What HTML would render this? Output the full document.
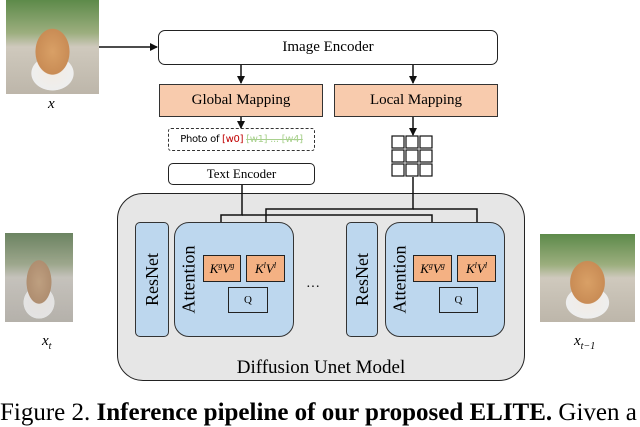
<!DOCTYPE html>
<html><head><meta charset="utf-8"><style>
body{margin:0;width:640px;height:410px;overflow:hidden;background:#fff;font-family:"Liberation Serif",serif;position:relative}
.a{position:absolute;box-sizing:border-box}
.c{display:flex;align-items:center;justify-content:center}
.dog{background:radial-gradient(ellipse 30% 40% at 50% 55%,#d9a066 0,#c98c55 60%,transparent 62%),radial-gradient(ellipse 25% 20% at 50% 78%,#f2ece4 0,#eee 90%,transparent 92%),linear-gradient(#5d8a4a 0,#9cae7e 35%,#cfc9bd 50%,#bdb6aa 100%)}
sup{font-size:8px;vertical-align:5px}
.rot{transform:rotate(-90deg);font-size:18px;white-space:nowrap}
</style></head><body>
<div class="a dog" style="left:6px;top:0;width:93px;height:94px"></div>
<div class="a" style="left:48px;top:96px;font-style:italic;font-size:15px">x</div>
<div class="a dog" style="left:5px;top:233px;width:68px;height:89px;filter:saturate(.6) contrast(.9)"></div>
<div class="a" style="left:42px;top:333px;font-style:italic;font-size:15px">x<sub style="font-size:10px">t</sub></div>
<div class="a dog" style="left:540px;top:234px;width:95px;height:88px"></div>
<div class="a" style="left:574px;top:333px;font-style:italic;font-size:15px">x<sub style="font-size:10px">t−1</sub></div>

<div class="a" style="left:117px;top:193px;width:408px;height:188px;background:#e6e6e6;border:1.5px solid #222;border-radius:26px"></div>

<svg class="a" style="left:0;top:0" width="640" height="410">
<defs><marker id="m" markerWidth="8" markerHeight="8" refX="7" refY="4" orient="auto" markerUnits="userSpaceOnUse"><path d="M0,0L8,4L0,8z" fill="#111"/></marker></defs>
<g stroke="#111" stroke-width="1.5" fill="none">
<line x1="99" y1="47" x2="157" y2="47" marker-end="url(#m)"/>
<line x1="241" y1="65" x2="241" y2="83" marker-end="url(#m)"/>
<line x1="413" y1="65" x2="413" y2="83" marker-end="url(#m)"/>
<line x1="241" y1="117" x2="241" y2="128" marker-end="url(#m)"/>
<line x1="413" y1="117" x2="413" y2="135" marker-end="url(#m)"/>
<polyline points="242,185 242,215 221,215 221,254" marker-end="url(#m)"/>
<polyline points="242,215 432,215 432,254" marker-end="url(#m)"/>
<polyline points="413,177 413,209 266,209 266,254" marker-end="url(#m)"/>
<polyline points="413,209 477,209 477,254" marker-end="url(#m)"/>
<g stroke-width="1.2">
<rect x="392" y="136" width="12" height="12"/><rect x="406" y="136" width="12" height="12"/><rect x="420" y="136" width="12" height="12"/>
<rect x="392" y="150" width="12" height="12"/><rect x="406" y="150" width="12" height="12"/><rect x="420" y="150" width="12" height="12"/>
<rect x="392" y="164" width="12" height="12"/><rect x="406" y="164" width="12" height="12"/><rect x="420" y="164" width="12" height="12"/>
</g></g></svg>

<div class="a c" style="left:158px;top:30px;width:340px;height:35px;border:1.5px solid #222;border-radius:7px;font-size:15px">Image Encoder</div>
<div class="a c" style="left:159px;top:84px;width:164px;height:33px;border:1.5px solid #333;background:#f8cbad;font-size:15px">Global Mapping</div>
<div class="a c" style="left:334px;top:84px;width:164px;height:33px;border:1.5px solid #333;background:#f8cbad;font-size:15px">Local Mapping</div>
<div class="a c" style="left:168px;top:128px;width:147px;height:23px;border:1.5px dashed #333;border-radius:3px;font-family:'DejaVu Sans',sans-serif;font-size:10px;letter-spacing:-.3px"><span>Photo of <span style="color:#c00000">[w0]</span> <span style="color:#a9d18e;text-decoration:line-through">[w1] ... [w4]</span></span></div>
<div class="a c" style="left:168px;top:163px;width:147px;height:22px;border:1.5px solid #222;border-radius:5px;font-size:13px">Text Encoder</div>

<div class="a c" style="left:135px;top:222px;width:34px;height:115px;background:#bdd7ee;border:1.2px solid #333;border-radius:5px"><span class="rot">ResNet</span></div>
<div class="a" style="left:174px;top:222px;width:120px;height:115px;background:#bdd7ee;border:1.2px solid #333;border-radius:15px"></div>
<div class="a c" style="left:174px;top:222px;width:30px;height:115px"><span class="rot">Attention</span></div>
<div class="a c" style="left:203px;top:255px;width:38px;height:27px;background:#f4b183;border:1.5px solid #222;font-style:italic;font-size:13px"><span>K<sup>g</sup>V<sup>g</sup></span></div>
<div class="a c" style="left:246px;top:255px;width:39px;height:27px;background:#f4b183;border:1.5px solid #222;font-style:italic;font-size:13px"><span>K<sup>l</sup>V<sup>l</sup></span></div>
<div class="a c" style="left:228px;top:287px;width:40px;height:26px;border:1.2px solid #222;font-size:11px">Q</div>

<div class="a" style="left:306px;top:280px;font-size:14px">···</div>

<div class="a c" style="left:346px;top:222px;width:32px;height:115px;background:#bdd7ee;border:1.2px solid #333;border-radius:5px"><span class="rot">ResNet</span></div>
<div class="a" style="left:385px;top:222px;width:120px;height:115px;background:#bdd7ee;border:1.2px solid #333;border-radius:15px"></div>
<div class="a c" style="left:385px;top:222px;width:30px;height:115px"><span class="rot">Attention</span></div>
<div class="a c" style="left:413px;top:255px;width:39px;height:27px;background:#f4b183;border:1.5px solid #222;font-style:italic;font-size:13px"><span>K<sup>g</sup>V<sup>g</sup></span></div>
<div class="a c" style="left:457px;top:255px;width:39px;height:27px;background:#f4b183;border:1.5px solid #222;font-style:italic;font-size:13px"><span>K<sup>l</sup>V<sup>l</sup></span></div>
<div class="a c" style="left:439px;top:287px;width:39px;height:26px;border:1.2px solid #222;font-size:11px">Q</div>

<div class="a c" style="left:117px;top:356px;width:408px;height:24px;font-size:19px">Diffusion Unet Model</div>
<div class="a" style="left:0;top:399px;font-size:25px;white-space:nowrap">Figure 2. <b>Inference pipeline of our proposed ELITE.</b> Given a</div>
</body></html>
